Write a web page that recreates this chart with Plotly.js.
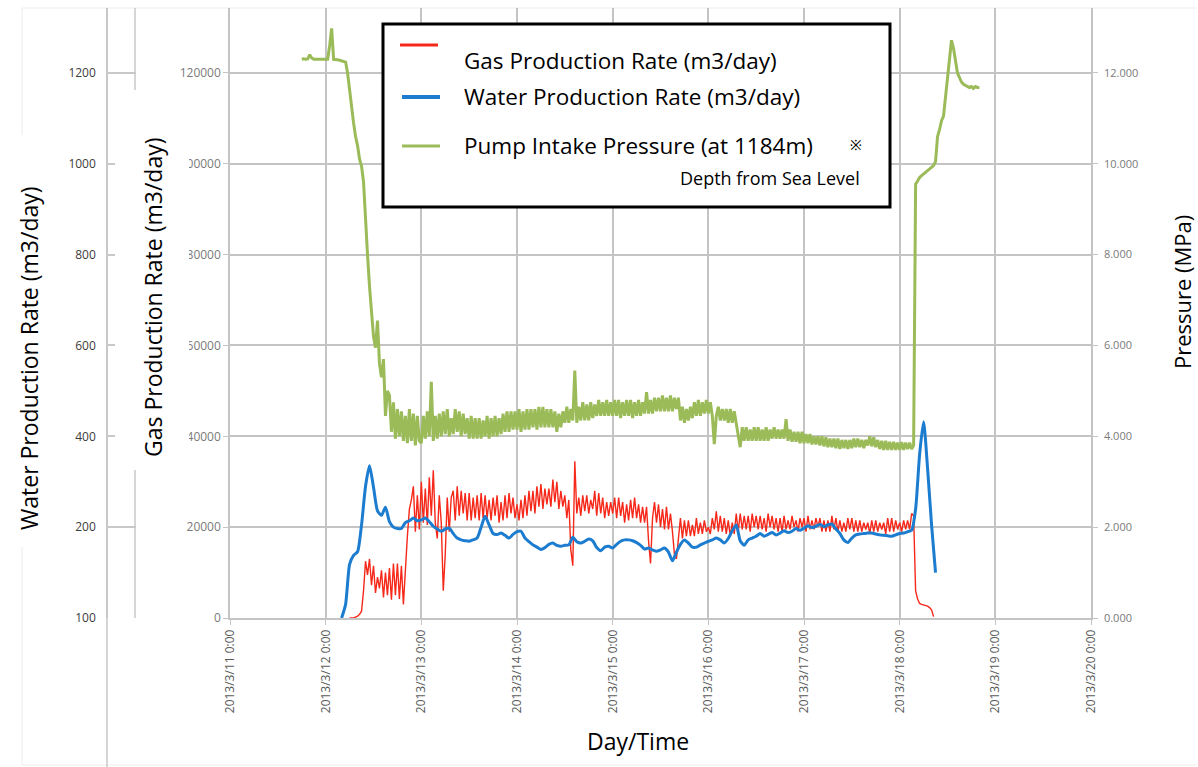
<!DOCTYPE html>
<html>
<head>
<meta charset="utf-8">
<script src="https://cdn.plot.ly/plotly-3.0.1.min.js"></script>
<style>
  html, body { margin: 0; padding: 0; background: #ffffff; }
  #chart { width: 1198px; height: 767px; }
</style>
</head>
<body>
<div id="chart"></div>
<script>
// Gas rate, one reading every 30 minutes from the start time (m3/day)
const gasStart = '2013-03-12T06:00:00';
const gasStepMinutes = 30;
const gasRate = [
  // 3/12 06:00 - 21:30
  0, 0, 0, 200, 400, 800, 1500, 6000, 12500, 9500, 13000, 7200, 11500, 5500, 9000, 6500,
  10500, 4500, 10000, 5000, 11000, 4000, 12000, 5000, 12000, 4200, 11500, 3000, 11500, 18000, 24000, 26000,
  // 3/12 22:00 - 23:30
  29000, 19000, 27000, 19500,
  // 3/13
  30000, 21000, 28500, 20500, 31000, 22500, 32500, 21000,
  17500, 27000, 21000, 6000, 14000, 26500, 19000, 26500,
  28000, 21500, 29000, 22500, 28000, 23000, 27500, 21500,
  27500, 21500, 26500, 22000, 27000, 21500, 27500, 22000,
  27000, 22000, 26000, 21500, 26500, 22500, 27000, 21000,
  25500, 21500, 27000, 22000, 27500, 23000, 26500, 22000,
  // 3/14
  25000, 21500, 26000, 22000, 27000, 22500, 28000, 23500,
  28000, 23000, 29000, 24500, 29500, 24000, 28500, 25000,
  28500, 24500, 30500, 25500, 30000, 24000, 28000, 24500,
  27000, 22000, 26000, 15000, 11500, 34500, 23000, 26500,
  22500, 27000, 23500, 27000, 23000, 26000, 24000, 28000,
  22500, 27500, 23000, 26500, 22000, 25500, 22500, 25500,
  // 3/15
  23000, 26500, 22000, 26500, 22500, 25500, 21000, 25000,
  21500, 26000, 22000, 26500, 22000, 25000, 21000, 24500,
  21000, 24500, 17000, 12000, 22000, 25500, 21000, 25000,
  20000, 24000, 19500, 24500, 19500, 23000, 19000, 14000,
  13000, 18000, 22000, 17500, 21500, 18000, 21500, 18000,
  20500, 18000, 22000, 18500, 21000, 18500, 21500, 19000,
  // 3/16
  20000, 18500, 22000, 19500, 23500, 19000, 22500, 19000,
  22000, 18500, 21500, 18000, 21000, 18500, 23000, 19000,
  23000, 19500, 22500, 19500, 22500, 19000, 23000, 20000,
  22500, 19500, 22500, 19500, 22000, 19000, 23000, 20000,
  22500, 19500, 22000, 19000, 22000, 19000, 22500, 19500,
  21500, 19500, 22500, 20000, 21500, 19000, 22000, 20000,
  // 3/17
  22000, 19000, 22500, 19500, 21500, 19500, 22000, 20000,
  22000, 19000, 21500, 19000, 21500, 19000, 22500, 19500,
  22000, 19000, 21500, 19000, 21000, 19000, 22000, 19500,
  22000, 19000, 21500, 19000, 21500, 19000, 21000, 19500,
  21000, 18500, 21500, 19000, 21500, 19000, 21000, 19500,
  21000, 18500, 22000, 19000, 22000, 19000, 21500, 19500,
  // 3/18 00:00 - 08:30
  21000, 19000, 21500, 19500, 21500, 19500, 23000, 22500,
  6000, 4200, 3200, 3000, 2900, 2800, 2600, 2300, 1800, 300
];

// Water rate, hourly from the start time (m3/day)
const waterStart = '2013-03-12T04:00:00';
const waterStepMinutes = 60;
const waterRate = [
  0, 30, 118, 138, 146, 205, 290, 335, 288, 236, 226, 244, 212, 200, 197, 197,
  210, 214, 220, 214, 216, 220, 212, 202, 196, 191, 196, 198, 186, 176, 172, 170,
  169, 172, 176, 200, 224, 205, 186, 184, 187, 182, 176, 184, 190, 191, 176, 168,
  161, 156, 151, 155, 162, 165, 160, 158, 160, 161, 178, 168, 165, 169, 174, 170,
  155, 148, 156, 158, 154, 162, 169, 172, 172, 170, 166, 160, 152, 154, 150, 147,
  150, 154, 145, 126, 145, 162, 172, 165, 156, 156, 161, 165, 169, 172, 176, 172,
  165, 175, 192, 205, 170, 160, 172, 176, 180, 186, 180, 184, 188, 183, 187, 192,
  188, 191, 197, 193, 198, 203, 199, 202, 206, 201, 205, 207, 196, 186, 172, 166,
  176, 183, 185, 186, 187, 187, 185, 183, 182, 181, 180, 183, 186, 187, 190, 193,
  240, 360, 432, 330, 205, 100
];

// Pump intake pressure, one reading every 30 minutes from the start time (MPa)
const pressureStart = '2013-03-11T18:00:00';
const pressureStepMinutes = 30;
const pumpPressure = [
  // 3/11 18:00 - 23:30
  12.30, 12.31, 12.30, 12.31, 12.40, 12.33, 12.30, 12.30, 12.29, 12.30, 12.30, 12.29,
  // 3/12
  12.29, 12.30, 12.60, 12.98, 12.30, 12.30, 12.29, 12.28,
  12.27, 12.26, 12.24, 12.00, 11.60, 11.30, 10.90, 10.60,
  10.40, 10.10, 9.95, 9.60, 8.70, 8.00, 7.30, 6.80,
  6.20, 5.95, 6.55, 5.60, 5.30, 5.70, 4.45, 5.00,
  4.90, 4.10, 4.75, 3.95, 4.60, 4.00, 4.55, 3.90,
  4.45, 3.85, 4.60, 3.90, 4.50, 3.80, 4.45, 3.90,
  // 3/13
  3.85, 4.45, 3.95, 4.55, 4.00, 5.20, 3.90, 4.45,
  3.95, 4.50, 4.00, 4.55, 4.05, 4.60, 4.00, 4.40,
  4.05, 4.60, 4.10, 4.55, 4.00, 4.50, 4.05, 4.40,
  3.95, 4.45, 3.95, 4.40, 3.95, 4.40, 3.95, 4.35,
  4.00, 4.45, 3.95, 4.40, 4.00, 4.45, 4.00, 4.40,
  4.05, 4.50, 4.10, 4.55, 4.10, 4.55, 4.15, 4.55,
  // 3/14
  4.15, 4.60, 4.10, 4.55, 4.15, 4.60, 4.15, 4.60,
  4.20, 4.60, 4.15, 4.65, 4.20, 4.65, 4.20, 4.60,
  4.20, 4.60, 4.20, 4.55, 4.10, 4.50, 4.20, 4.55,
  4.30, 4.65, 4.30, 4.60, 4.35, 5.45, 4.30, 4.65,
  4.35, 4.75, 4.35, 4.70, 4.35, 4.75, 4.40, 4.70,
  4.45, 4.80, 4.45, 4.75, 4.45, 4.80, 4.45, 4.75,
  // 3/15
  4.45, 4.80, 4.45, 4.80, 4.40, 4.75, 4.45, 4.80,
  4.45, 4.80, 4.40, 4.75, 4.45, 4.80, 4.45, 4.75,
  4.50, 4.97, 4.50, 4.80, 4.50, 4.85, 4.55, 4.85,
  4.55, 4.90, 4.55, 4.85, 4.55, 4.90, 4.55, 4.85,
  4.60, 4.85, 4.35, 4.65, 4.30, 4.60, 4.35, 4.65,
  4.40, 4.75, 4.45, 4.80, 4.45, 4.75, 4.50, 4.80,
  // 3/16
  4.50, 4.75, 4.45, 3.83, 4.45, 4.65, 4.35, 4.60,
  4.35, 4.60, 4.30, 4.60, 4.30, 4.55, 4.25, 4.00,
  3.76, 4.20, 3.90, 4.20, 3.90, 4.15, 3.90, 4.20,
  3.90, 4.20, 3.90, 4.15, 3.90, 4.20, 3.90, 4.15,
  3.95, 4.20, 3.95, 4.15, 3.95, 4.15, 3.95, 4.38,
  3.90, 4.15, 3.88, 4.10, 3.88, 4.10, 3.85, 4.10,
  // 3/17
  3.85, 4.05, 3.85, 4.05, 3.82, 4.00, 3.82, 4.00,
  3.80, 4.00, 3.78, 3.98, 3.76, 3.95, 3.76, 3.95,
  3.74, 3.95, 3.72, 3.92, 3.74, 3.92, 3.72, 3.92,
  3.74, 3.95, 3.76, 3.95, 3.76, 3.92, 3.74, 3.92,
  3.80, 4.00, 3.78, 3.98, 3.76, 3.92, 3.72, 3.90,
  3.70, 3.90, 3.70, 3.88, 3.70, 3.88, 3.70, 3.86,
  // 3/18 00:00 - 20:00
  3.70, 3.87, 3.70, 3.86, 3.72, 3.86, 3.72, 3.80,
  9.55, 9.62, 9.70, 9.74, 9.78, 9.82, 9.85, 9.88,
  9.92, 9.96, 10.05, 10.60, 10.75, 10.95, 11.05, 11.50,
  11.85, 12.30, 12.72, 12.55, 12.30, 12.00, 11.90, 11.80,
  11.75, 11.72, 11.70, 11.68, 11.70, 11.66, 11.70, 11.68,
  11.68
];

// Axis ticks
const dayRange = ['2013-03-11 00:00', '2013-03-20 00:00'];
const waterTickVals = [0, 200, 400, 600, 800, 1000, 1200];
const waterTickText = ['100', '200', '400', '600', '800', '1000', '1200'];

const seriesNames = [
  'Gas Production Rate (m3/day)',
  'Water Production Rate (m3/day)',
  'Pump Intake Pressure (at 1184m)'
];
const colors = { gas: '#f6281a', water: '#1c7ccf', pressure: '#9bbb59' };

function sampleTimes(start, stepMinutes, count) {
  const t0 = Date.parse(start + 'Z');
  const out = [];
  for (let i = 0; i < count; i++) {
    out.push(new Date(t0 + i * stepMinutes * 60000).toISOString().slice(0, 16).replace('T', ' '));
  }
  return out;
}

const traces = [
  {
    x: sampleTimes(pressureStart, pressureStepMinutes, pumpPressure.length), y: pumpPressure,
    yaxis: 'y2', type: 'scatter', mode: 'lines', name: seriesNames[2],
    line: { color: colors.pressure, width: 3 }
  },
  {
    x: sampleTimes(gasStart, gasStepMinutes, gasRate.length), y: gasRate,
    yaxis: 'y', type: 'scatter', mode: 'lines', name: seriesNames[0],
    line: { color: colors.gas, width: 1.4 }
  },
  {
    x: sampleTimes(waterStart, waterStepMinutes, waterRate.length), y: waterRate,
    yaxis: 'y3', type: 'scatter', mode: 'lines', name: seriesNames[1],
    line: { color: colors.water, width: 3, shape: 'spline', smoothing: 0.6 }
  }
];

// pixel helpers for page furniture (paper spans the full width; plot rows 8..618)
const W = 1198, TOP = 8, BOT = 618;
const px = v => v / W;
const py = v => (BOT - v) / (BOT - TOP);
const GRID = '#c4c4c4';
const FONT = 'Open Sans, Lato, sans-serif';

function seg(x0, y0, x1, y1, color, width, layer) {
  return { type: 'line', xref: 'paper', yref: 'paper',
    x0: px(x0), y0: py(y0), x1: px(x1), y1: py(y1),
    line: { color: color, width: width }, layer: layer || 'above' };
}

const shapes = [
  // faint outer frame
  seg(22, 8, 1197, 8, '#ececec', 1, 'below'),
  seg(22, 765, 1197, 765, '#ececec', 1, 'below'),
  seg(22, 8, 22, 135, '#ececec', 1, 'below'),
  seg(22, 547, 22, 765, '#ececec', 1, 'below'),
  // water-rate axis extension and companion rule
  seg(107, 618, 107, 767, '#c8c8c8', 1.5, 'below'),
  seg(135, 8, 135, 618, '#c8c8c8', 1.5, 'below'),
  // blank panel behind the gas-rate title
  { type: 'rect', xref: 'paper', yref: 'paper', x0: px(115), x1: px(189), y0: py(470), y1: py(90),
    fillcolor: '#ffffff', line: { width: 0 }, layer: 'above' },
  // legend box
  { type: 'rect', xref: 'paper', yref: 'paper', x0: px(383), x1: px(890), y0: py(207), y1: py(24),
    fillcolor: '#ffffff', line: { color: '#000000', width: 3 }, layer: 'above' },
  seg(400, 45, 438, 45, colors.gas, 3),
  seg(402, 97, 440, 97, colors.water, 4),
  seg(402, 146, 440, 146, colors.pressure, 3)
];

function note(text, x, y, size, opts) {
  return Object.assign({
    text: text, xref: 'paper', yref: 'paper', x: px(x), y: py(y),
    xanchor: 'left', yanchor: 'middle', showarrow: false,
    font: { family: FONT, size: size, color: '#000000' }
  }, opts || {});
}

const annotations = [
  note(seriesNames[0], 462, 60, 22.5),
  note(seriesNames[1], 462, 97, 22.5),
  note(seriesNames[2], 462, 145, 22.5),
  note('※', 856, 144, 14, { xanchor: 'center' }),
  note('Depth from Sea Level', 862, 178, 18, { xanchor: 'right' }),
  note('Water Production Rate (m3/day)', 29, 358, 23, { xanchor: 'center', textangle: -90 }),
  note('Gas Production Rate (m3/day)', 153, 297, 23, { xanchor: 'center', textangle: -90 }),
  note('Pressure (MPa)', 1182, 292, 22, { xanchor: 'center', textangle: -90 }),
  note('Day/Time', 638, 741, 23, { xanchor: 'center' })
];

const layout = {
  width: 1198, height: 767,
  margin: { l: 0, r: 0, t: TOP, b: 767 - BOT, pad: 0 },
  paper_bgcolor: '#ffffff', plot_bgcolor: '#ffffff',
  showlegend: false,
  font: { family: FONT },
  xaxis: {
    type: 'date', domain: [230 / W, 1091 / W], range: dayRange,
    dtick: 86400000, tick0: '2013-03-11 00:00',
    tickformat: '%Y/%-m/%-d %-H:%M', tickangle: -90,
    tickfont: { size: 12, color: '#5a5a5a' },
    showgrid: true, gridcolor: GRID, gridwidth: 1.5,
    showline: true, linecolor: GRID, linewidth: 1.5,
    ticks: 'outside', ticklen: 5, tickcolor: GRID, tickwidth: 1.2,
    zeroline: false, automargin: false
  },
  yaxis: {
    anchor: 'x', side: 'left', range: [0, 134300], dtick: 20000, tick0: 0,
    tickformat: 'd', tickfont: { size: 12, color: '#7a7a7a' },
    showgrid: true, gridcolor: GRID, gridwidth: 1.5,
    showline: true, linecolor: GRID, linewidth: 1.5,
    ticks: 'outside', ticklen: 5, tickcolor: GRID,
    zeroline: false, automargin: false
  },
  yaxis2: {
    anchor: 'x', overlaying: 'y', side: 'right', range: [0, 13.43], dtick: 2, tick0: 0,
    tickformat: '.3f', tickfont: { size: 11, color: '#7a7a7a' },
    showgrid: false, showline: true, linecolor: GRID, linewidth: 1.5,
    ticks: 'outside', ticklen: 5, tickcolor: GRID,
    ticklabelstandoff: 4,
    zeroline: false, automargin: false
  },
  yaxis3: {
    anchor: 'free', overlaying: 'y', side: 'left', position: 107 / W,
    range: [0, 1343], tickmode: 'array', tickvals: waterTickVals, ticktext: waterTickText,
    tickfont: { size: 12, color: '#3c3c3c' },
    showgrid: false, showline: true, linecolor: '#c8c8c8', linewidth: 1.5,
    ticks: 'inside', ticklen: 28, tickcolor: '#c8c8c8', tickwidth: 1.5,
    ticklabelstandoff: 8,
    zeroline: false, automargin: false
  },
  shapes: shapes,
  annotations: annotations
};

Plotly.newPlot('chart', traces, layout, { displayModeBar: false, responsive: false });
</script>
</body>
</html>
